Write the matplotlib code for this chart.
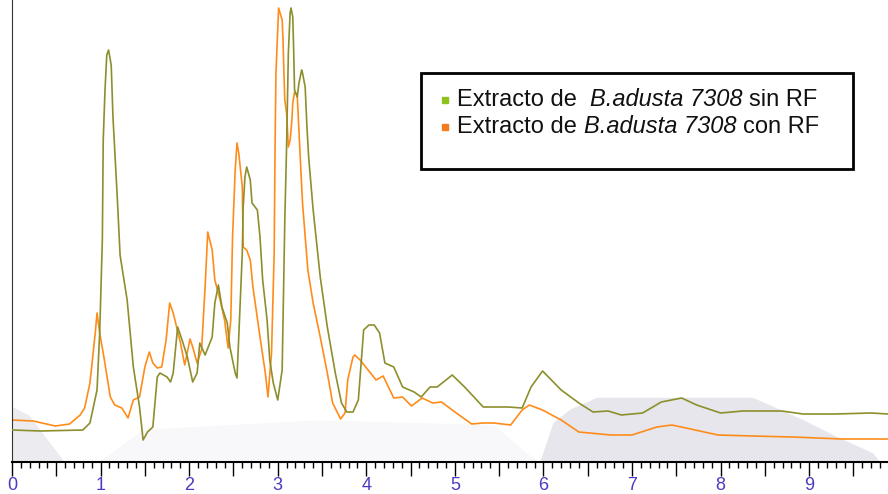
import numpy as np
import matplotlib.pyplot as plt
from matplotlib.lines import Line2D
from matplotlib.patches import Rectangle, Polygon
from matplotlib.ticker import MultipleLocator

plt.rcParams['font.family'] = ['Liberation Sans', 'DejaVu Sans']

x_sin = [0, 0.32, 0.80, 0.88, 0.96, 0.99, 1.02, 1.03, 1.05, 1.07, 1.09, 1.12, 1.14, 1.19, 1.22,
         1.30, 1.37, 1.44, 1.48, 1.53, 1.59, 1.64, 1.67, 1.75, 1.79, 1.82, 1.87, 1.92, 1.98,
         2.04, 2.09, 2.12, 2.18, 2.26, 2.29, 2.33, 2.37, 2.43, 2.46, 2.52, 2.54, 2.56, 2.60,
         2.61, 2.63, 2.65, 2.69, 2.71, 2.77, 2.80, 2.83, 2.88, 2.91, 2.95, 3.00, 3.05, 3.08,
         3.10, 3.12, 3.14, 3.15, 3.17, 3.18, 3.19, 3.22, 3.24, 3.27, 3.28, 3.31, 3.33, 3.35,
         3.40, 3.48, 3.56, 3.65, 3.72, 3.78, 3.85, 3.91, 3.93, 3.97, 4.03, 4.09, 4.15, 4.21,
         4.31, 4.41, 4.54, 4.62, 4.72, 4.80, 4.97, 5.11, 5.32, 5.60, 5.76, 5.86, 5.99, 6.20,
         6.40, 6.56, 6.73, 6.88, 7.12, 7.33, 7.56, 7.73, 8.00, 8.25, 8.69, 8.93, 9.29, 9.70, 9.89]
y_sin = [32, 31, 32, 39, 72, 129, 222, 322, 372, 407, 412, 397, 345, 262, 207,
         162, 95, 55, 22, 30, 35, 85, 89, 85, 80, 89, 135, 122, 105,
         80, 89, 119, 107, 125, 159, 177, 155, 139, 115, 89, 84, 125, 209,
         255, 285, 295, 282, 259, 252, 225, 182, 142, 102, 79, 62, 92, 242,
         315, 409, 449, 454, 445, 412, 372, 365, 379, 392, 389, 375, 335, 304,
         252, 185, 135, 89, 59, 50, 50, 62, 85, 132, 137, 137, 129, 99,
         95, 75, 70, 65, 75, 75, 87, 75, 55, 55, 54, 75, 91, 72,
         59, 50, 51, 47, 49, 60, 64, 57, 49, 51, 51, 48, 48, 49, 48]

x_con = [0, 0.24, 0.49, 0.65, 0.77, 0.82, 0.88, 0.94, 0.96, 0.99, 1.03, 1.11, 1.16, 1.24, 1.31,
         1.37, 1.44, 1.50, 1.55, 1.59, 1.64, 1.69, 1.74, 1.78, 1.82, 1.90, 1.95, 2.01, 2.04,
         2.09, 2.14, 2.18, 2.21, 2.26, 2.29, 2.35, 2.40, 2.44, 2.47, 2.49, 2.52, 2.54, 2.56,
         2.60, 2.61, 2.65, 2.69, 2.72, 2.80, 2.86, 2.89, 2.93, 2.96, 2.97, 2.98, 3.00, 3.01,
         3.05, 3.06, 3.07, 3.08, 3.10, 3.12, 3.14, 3.16, 3.17, 3.19, 3.22, 3.23, 3.25, 3.28,
         3.34, 3.40, 3.48, 3.56, 3.62, 3.71, 3.76, 3.79, 3.85, 3.87, 3.93, 4.11, 4.19, 4.31,
         4.41, 4.51, 4.63, 4.75, 4.85, 5.00, 5.19, 5.32, 5.44, 5.63, 5.76, 5.84, 5.99, 6.20,
         6.40, 6.76, 7.00, 7.28, 7.45, 7.61, 7.97, 8.36, 8.81, 9.37, 9.89]
y_con = [42, 41, 36, 38, 47, 54, 79, 129, 149, 129, 109, 65, 57, 54, 44,
         62, 65, 95, 110, 99, 94, 95, 122, 159, 149, 120, 97, 123, 115,
         99, 112, 175, 230, 212, 182, 162, 142, 114, 142, 225, 292, 319, 309,
         275, 215, 212, 202, 175, 125, 89, 65, 109, 209, 315, 389, 432, 454,
         442, 422, 389, 362, 349, 315, 322, 342, 359, 370, 367, 349, 312, 259,
         192, 159, 125, 89, 59, 43, 49, 82, 105, 107, 102, 82, 86, 64,
         65, 56, 64, 59, 60, 50, 38, 39, 39, 37, 52, 57, 52, 42,
         30, 27, 27, 35, 37, 34, 27, 26, 25, 23, 23]

# texto de la leyenda: (trozo, estilo, espacios despues)
leyenda_sin = [('Extracto de', 'normal', 2), ('B.adusta 7308', 'italic', 1), ('sin RF', 'normal', 0)]
leyenda_con = [('Extracto de', 'normal', 1), ('B.adusta 7308', 'italic', 1), ('con RF', 'normal', 0)]
color_sin = '#8c8f2c'
color_con = '#ff8c1a'

fig = plt.figure(figsize=(8.88, 4.94), dpi=100)
ax = fig.add_axes([12 / 888, 32 / 494, 876 / 888, 462 / 494])

# marca de agua gris del fondo
ax.add_patch(Polygon([(0.603, 0), (0.618, 0.084), (0.637, 0.113), (0.668, 0.139), (0.846, 0.139),
                      (0.903, 0.091), (0.942, 0.054), (0.983, 0.019), (0.991, 0)],
                     closed=True, transform=ax.transAxes, color='#e6e6ec', lw=0, zorder=0))
ax.add_patch(Polygon([(0.10, 0), (0.15, 0.07), (0.35, 0.09), (0.55, 0.08), (0.60, 0)],
                     closed=True, transform=ax.transAxes, color='#f8f8fa', lw=0, zorder=0))
ax.add_patch(Polygon([(0, 0), (0, 0.12), (0.02, 0.10), (0.04, 0.05), (0.06, 0)],
                     closed=True, transform=ax.transAxes, color='#ebebf0', lw=0, zorder=0))

ax.plot(x_sin, y_sin, color=color_sin, lw=1.2, zorder=3)
ax.plot(x_con, y_con, color=color_con, lw=1.2, zorder=2)

ax.set_xlim(0, 9.89)
ax.set_ylim(0, 462)
ax.spines['top'].set_visible(False)
ax.spines['right'].set_visible(False)
ax.spines['bottom'].set_linewidth(1.5)
ax.spines['left'].set_color('#333333')
ax.set_yticks([])
ax.xaxis.set_major_locator(MultipleLocator(0.5))
ax.xaxis.set_minor_locator(MultipleLocator(0.1))
ax.set_xticklabels([str(int(t)) if t == int(t) else '' for t in ax.get_xticks()])
ax.tick_params(axis='x', which='major', length=10, width=1, labelsize=13,
               labelcolor='#4a3cc0', pad=1)
ax.tick_params(axis='x', which='minor', length=4, width=1)

# cuadro de leyenda
fig.add_artist(Rectangle((421 / 888, (494 - 169) / 494), 432 / 888, 96 / 494,
                         transform=fig.transFigure, fill=False, ec='black', lw=2))

renderer = fig.canvas.get_renderer()


def ancho(txt, style):
    t = fig.text(0, 0, txt, fontsize=17, style=style)
    w = t.get_window_extent(renderer).width
    t.remove()
    return w


espacio = ancho('x x', 'normal') - ancho('xx', 'normal')


def linea_leyenda(partes, color, y_px):
    y = (494 - y_px) / 494
    fig.add_artist(Line2D([445 / 888], [y + 6 / 494], marker='s', ls='none', color=color,
                          markersize=4.5, transform=fig.transFigure))
    x = 457
    for txt, style, n in partes:
        fig.text(x / 888, y, txt, fontsize=17, style=style, va='baseline', color='#111111')
        x += ancho(txt, style) + n * espacio


linea_leyenda(leyenda_sin, '#8dc21f', 106)
linea_leyenda(leyenda_con, '#f47c20', 133)

fig.savefig('out.png', dpi=100)
